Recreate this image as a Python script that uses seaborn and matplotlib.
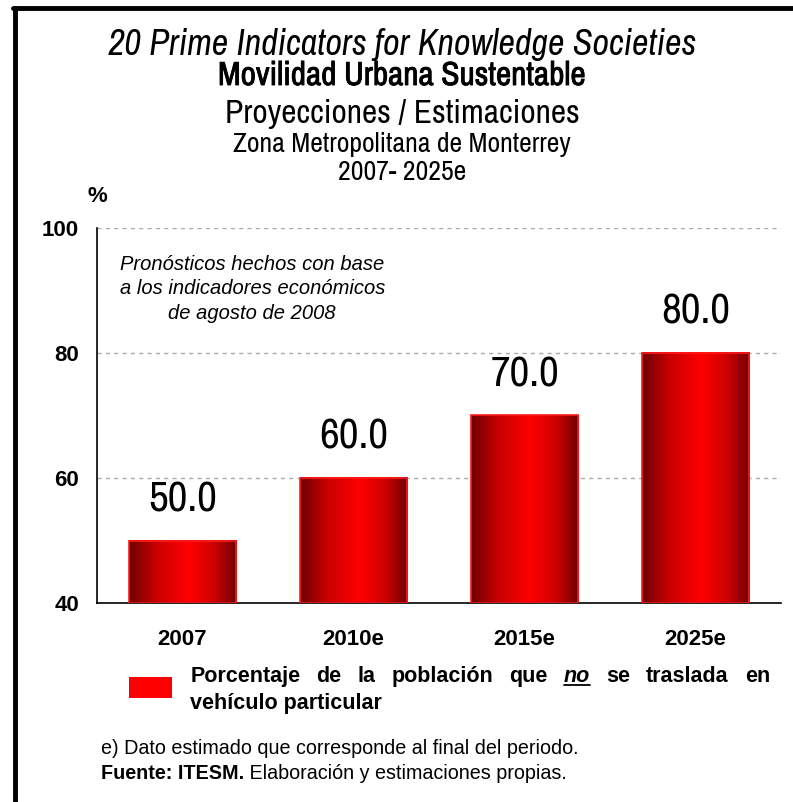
import numpy as np
import pandas as pd
import matplotlib
matplotlib.use("Agg")
import matplotlib.pyplot as plt
import matplotlib.patheffects as pe
from matplotlib.colors import LinearSegmentedColormap
from matplotlib.patches import Rectangle
from matplotlib.lines import Line2D
import seaborn as sns

sns.set_style("white")

narrow = ["Archivo Narrow", "Liberation Sans Narrow", "DejaVu Sans"]
arial = ["Liberation Sans", "DejaVu Sans"]
plt.rcParams["font.family"] = arial
plt.rcParams["text.color"] = "black"
plt.rcParams["xtick.color"] = "black"
plt.rcParams["ytick.color"] = "black"
plt.rcParams["axes.labelcolor"] = "black"

# data
years = ["2007", "2010e", "2015e", "2025e"]
values = [50.0, 60.0, 70.0, 80.0]
yticks = [40, 60, 80, 100]

df = pd.DataFrame({"year": years, "value": values})

fig = plt.figure(figsize=(7.93, 8.02), dpi=100)
ax = fig.add_axes([0.1223, 0.248, 0.8627, 0.468])

sns.barplot(data=df, x="year", y="value", color="#ff0000", width=0.63,
            edgecolor="#ff2020", linewidth=1.0, ax=ax)

ymin, ymax = 40, 100
ax.set_ylim(ymin, ymax)
ax.set_xlim(-0.5, 3.5)
ax.set_yticks(yticks)
ax.set_yticklabels([str(t) for t in yticks], fontsize=16, fontweight="bold", family=arial)
ax.set_xticks(range(len(years)))
ax.set_xticklabels(years, fontsize=16, fontweight="bold", family=arial)
ax.tick_params(axis="x", length=0, pad=19)
ax.tick_params(axis="y", direction="inout", length=14, width=1.2, pad=6)
ax.set_xticks([-0.5, 0.5, 1.5, 2.5, 3.5], minor=True)
ax.tick_params(axis="x", which="minor", direction="inout", length=16, width=1.2, color="#444444")
ax.set_xlabel("")
ax.set_ylabel("")
for s in ["top", "right"]:
    ax.spines[s].set_visible(False)
for s in ["left", "bottom"]:
    ax.spines[s].set_color("black")
    ax.spines[s].set_linewidth(1.2)

for t in [60, 80, 100]:
    ax.axhline(t, color="#aaaaaa", linestyle=(0, (3, 3)), linewidth=1.0, zorder=0)

# gradient fill on each bar (only the part above the axis floor)
cmap = LinearSegmentedColormap.from_list(
    "bar", [(0.0, "#6e0000"), (0.25, "#c80000"), (0.55, "#ff0000"),
            (0.78, "#d00000"), (1.0, "#700000")])
grad = np.linspace(0, 1, 256).reshape(1, -1)
for p in list(ax.patches):
    x0, w = p.get_x(), p.get_width()
    y0 = max(p.get_y(), ymin)
    y1 = p.get_y() + p.get_height()
    p.set_visible(False)
    ax.imshow(grad, cmap=cmap, aspect="auto", extent=[x0, x0 + w, y0, y1],
              zorder=2, interpolation="bilinear")
    ax.add_patch(Rectangle((x0, y0), w, y1 - y0, fill=False, edgecolor="#ff1a1a",
                           linewidth=1.2, zorder=3))
ax.set_xlim(-0.5, 3.5)
ax.set_ylim(ymin, ymax)

for i, v in enumerate(values):
    ax.annotate(f"{v:.1f}", xy=(i, v), xytext=(0, 16), textcoords="offset points",
                ha="center", va="bottom", fontsize=31, family=narrow, color="black")

ax.text(0.227, 0.837, "Pronósticos hechos con base\na los indicadores económicos\nde agosto de 2008",
        transform=ax.transAxes, ha="center", va="center", fontsize=14.5, style="italic",
        family=arial, linespacing=1.38)

fig.text(0.1223, 0.755, "%", fontsize=16, fontweight="bold", family=arial, ha="center", va="center")

# titles
cx = 0.507
fig.text(cx, 0.931, "20 Prime Indicators for Knowledge Societies", ha="center", va="baseline",
         fontsize=26, style="italic", family=narrow)
fig.text(cx, 0.894, "Movilidad Urbana Sustentable", ha="center", va="baseline",
         fontsize=24, family=narrow,
         path_effects=[pe.withStroke(linewidth=0.6, foreground="black")])
fig.text(cx, 0.847, "Proyecciones / Estimaciones", ha="center", va="baseline",
         fontsize=24, family=narrow)
fig.text(cx, 0.811, "Zona Metropolitana de Monterrey", ha="center", va="baseline",
         fontsize=20, family=narrow)
fig.text(cx, 0.775, "2007- 2025e", ha="center", va="baseline",
         fontsize=20, family=narrow)

# legend (first line is justified across the block width)
fig.patches.append(Rectangle((0.163, 0.130), 0.054, 0.026, transform=fig.transFigure,
                             facecolor="#ff0000", edgecolor="none"))
fs_leg = 15.5
x_left, x_right = 0.240, 0.971
fig.canvas.draw()
r = fig.canvas.get_renderer()
words = ["Porcentaje", "de", "la", "población", "que", "no", "se", "traslada", "en"]
arts = []
for wd in words:
    st = "italic" if wd == "no" else "normal"
    arts.append(fig.text(x_left, 0.157, wd, fontsize=fs_leg, fontweight="bold", style=st,
                         family=arial, va="center"))
inv = fig.transFigure.inverted()
widths = [a.get_window_extent(r).transformed(inv).width for a in arts]
gap = (x_right - x_left - sum(widths)) / (len(words) - 1)
xpos = x_left
for a, wd, wdt in zip(arts, words, widths):
    a.set_x(xpos)
    if wd == "no":
        bb2 = a.get_window_extent(r).transformed(inv)
        fig.lines.append(Line2D([xpos, xpos + wdt], [bb2.y0 + 0.002, bb2.y0 + 0.002],
                                transform=fig.transFigure, color="black", linewidth=1.3))
    xpos += wdt + gap
fig.text(x_left, 0.123, "vehículo particular", fontsize=fs_leg, fontweight="bold",
         family=arial, va="center")

# footnotes
fig.text(0.127, 0.067, "e) Dato estimado que corresponde al final del periodo.",
         fontsize=14.2, family=arial, va="center")
t3 = fig.text(0.127, 0.036, "Fuente: ITESM.", fontsize=14.2, fontweight="bold",
              family=arial, va="center")
fig.canvas.draw()
bb3 = t3.get_window_extent(r).transformed(inv)
fig.text(bb3.x1, 0.036, " Elaboración y estimaciones propias.", fontsize=14.2,
         family=arial, va="center")

# frame on left and top
fig.lines.append(Line2D([0.0187, 0.0187], [0.0, 0.9895], transform=fig.transFigure,
                        color="black", linewidth=3.5))
fig.lines.append(Line2D([0.0165, 1.0], [0.9895, 0.9895], transform=fig.transFigure,
                        color="black", linewidth=3.5))

fig.savefig("out.png", dpi=100)
